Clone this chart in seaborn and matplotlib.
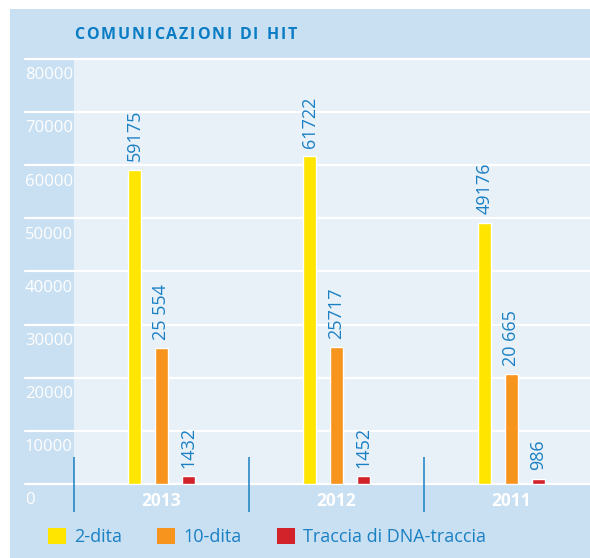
import pandas as pd
import seaborn as sns
import matplotlib.pyplot as plt
from matplotlib.patches import Rectangle
from matplotlib.transforms import blended_transform_factory

# Data
years = ["2013", "2012", "2011"]
series = ["2-dita", "10-dita", "Traccia di DNA-traccia"]
values_2dita = [59175, 61722, 49176]
values_10dita = [25554, 25717, 20665]
values_dna = [1432, 1452, 986]
labels_2dita = ["59175", "61722", "49176"]
labels_10dita = ["25 554", "25717", "20 665"]
labels_dna = ["1432", "1452", "986"]
y_ticks = [0, 10000, 20000, 30000, 40000, 50000, 60000, 70000, 80000]

colors = ["#FFE500", "#F7941D", "#D2232A"]
blue = "#1A80C4"
panel_bg = "#C9DFF2"
plot_bg = "#E8F0F8"

rows = []
for i, y in enumerate(years):
    rows.append({"year": y, "series": series[0], "value": values_2dita[i], "label": labels_2dita[i]})
    rows.append({"year": y, "series": series[1], "value": values_10dita[i], "label": labels_10dita[i]})
    rows.append({"year": y, "series": series[2], "value": values_dna[i], "label": labels_dna[i]})
df = pd.DataFrame(rows)

sns.set_theme(style="white")
plt.rcParams["font.family"] = ["Open Sans", "DejaVu Sans"]

W, H = 590, 558
fig = plt.figure(figsize=(W / 100, H / 100), dpi=100)
fig.patch.set_facecolor("white")

# background panel (behind everything)
fig.patches.append(Rectangle((10 / W, 0), 1 - 10 / W, 1 - 9 / H,
                             transform=fig.transFigure, facecolor=panel_bg,
                             edgecolor="none", zorder=-5))

left, right, top, bottom = 74, 590, 59, 484
ax = fig.add_axes([left / W, 1 - bottom / H, (right - left) / W, (bottom - top) / H])
ax.set_zorder(2)
ax.set_facecolor(plot_bg)

sns.barplot(data=df, x="year", y="value", hue="series", order=years,
            hue_order=series, palette=colors, width=81 / 175, gap=0.52,
            saturation=1, ax=ax, legend=False, zorder=3)

ax.set_xlim(-0.5, (right - left) / 175 - 0.5)
ax.set_ylim(0, 80000)
for s in ax.spines.values():
    s.set_visible(False)
ax.set_xlabel("")
ax.set_ylabel("")
ax.set_yticks([])
ax.set_xticks(range(len(years)))
ax.set_xticklabels(years, color="white", fontsize=12.5, fontweight="bold")
ax.tick_params(axis="x", length=0, pad=6)

# grid lines extending into the left strip
trans = blended_transform_factory(ax.transAxes, ax.transData)
x0 = (25 - left) / (right - left)
for t in y_ticks:
    ax.plot([x0, 1], [t, t], transform=trans, color="white", lw=1.6,
            clip_on=False, zorder=2)
    ax.annotate(str(t), (x0, t), xycoords=trans, xytext=(0, -6),
                textcoords="offset points", ha="left", va="top",
                color="white", fontsize=12, annotation_clip=False)

# separators between groups
for xs in [-0.5, 0.5, 1.5]:
    ax.vlines(xs, -5270, 5080, color=blue, lw=1.1, clip_on=False, zorder=4)

# value labels
offsets = [-27 / 175, 0, 27 / 175]
for i, y in enumerate(years):
    sub = df[df["year"] == y]
    for j, (_, r) in enumerate(sub.iterrows()):
        ax.annotate(r["label"], (i + offsets[j], r["value"]),
                    xytext=(0, 6), textcoords="offset points", rotation=90,
                    ha="center", va="bottom", color=blue, fontsize=13)

# title, letter-spaced
renderer = fig.canvas.get_renderer()
xpos = 74
for ch in "COMUNICAZIONI DI HIT":
    t = fig.text(xpos / W, 1 - 35 / H, ch, color="#0A7CC4", fontsize=11.5,
                 fontweight="bold", ha="left", va="center")
    xpos += t.get_window_extent(renderer).width + 1.9 if ch != " " else 6

# legend
handles = [Rectangle((0, 0), 1, 1, facecolor=c, edgecolor="none") for c in colors]
leg = fig.legend(handles, series, loc="center left",
                 bbox_to_anchor=(48 / W, 1 - 537 / H), ncol=3, frameon=False,
                 fontsize=13, handlelength=1.0, handleheight=1.0,
                 handletextpad=0.45, columnspacing=1.95, borderpad=0,
                 borderaxespad=0)
for txt in leg.get_texts():
    txt.set_color(blue)

fig.savefig("out.png", dpi=100, facecolor=fig.get_facecolor())
